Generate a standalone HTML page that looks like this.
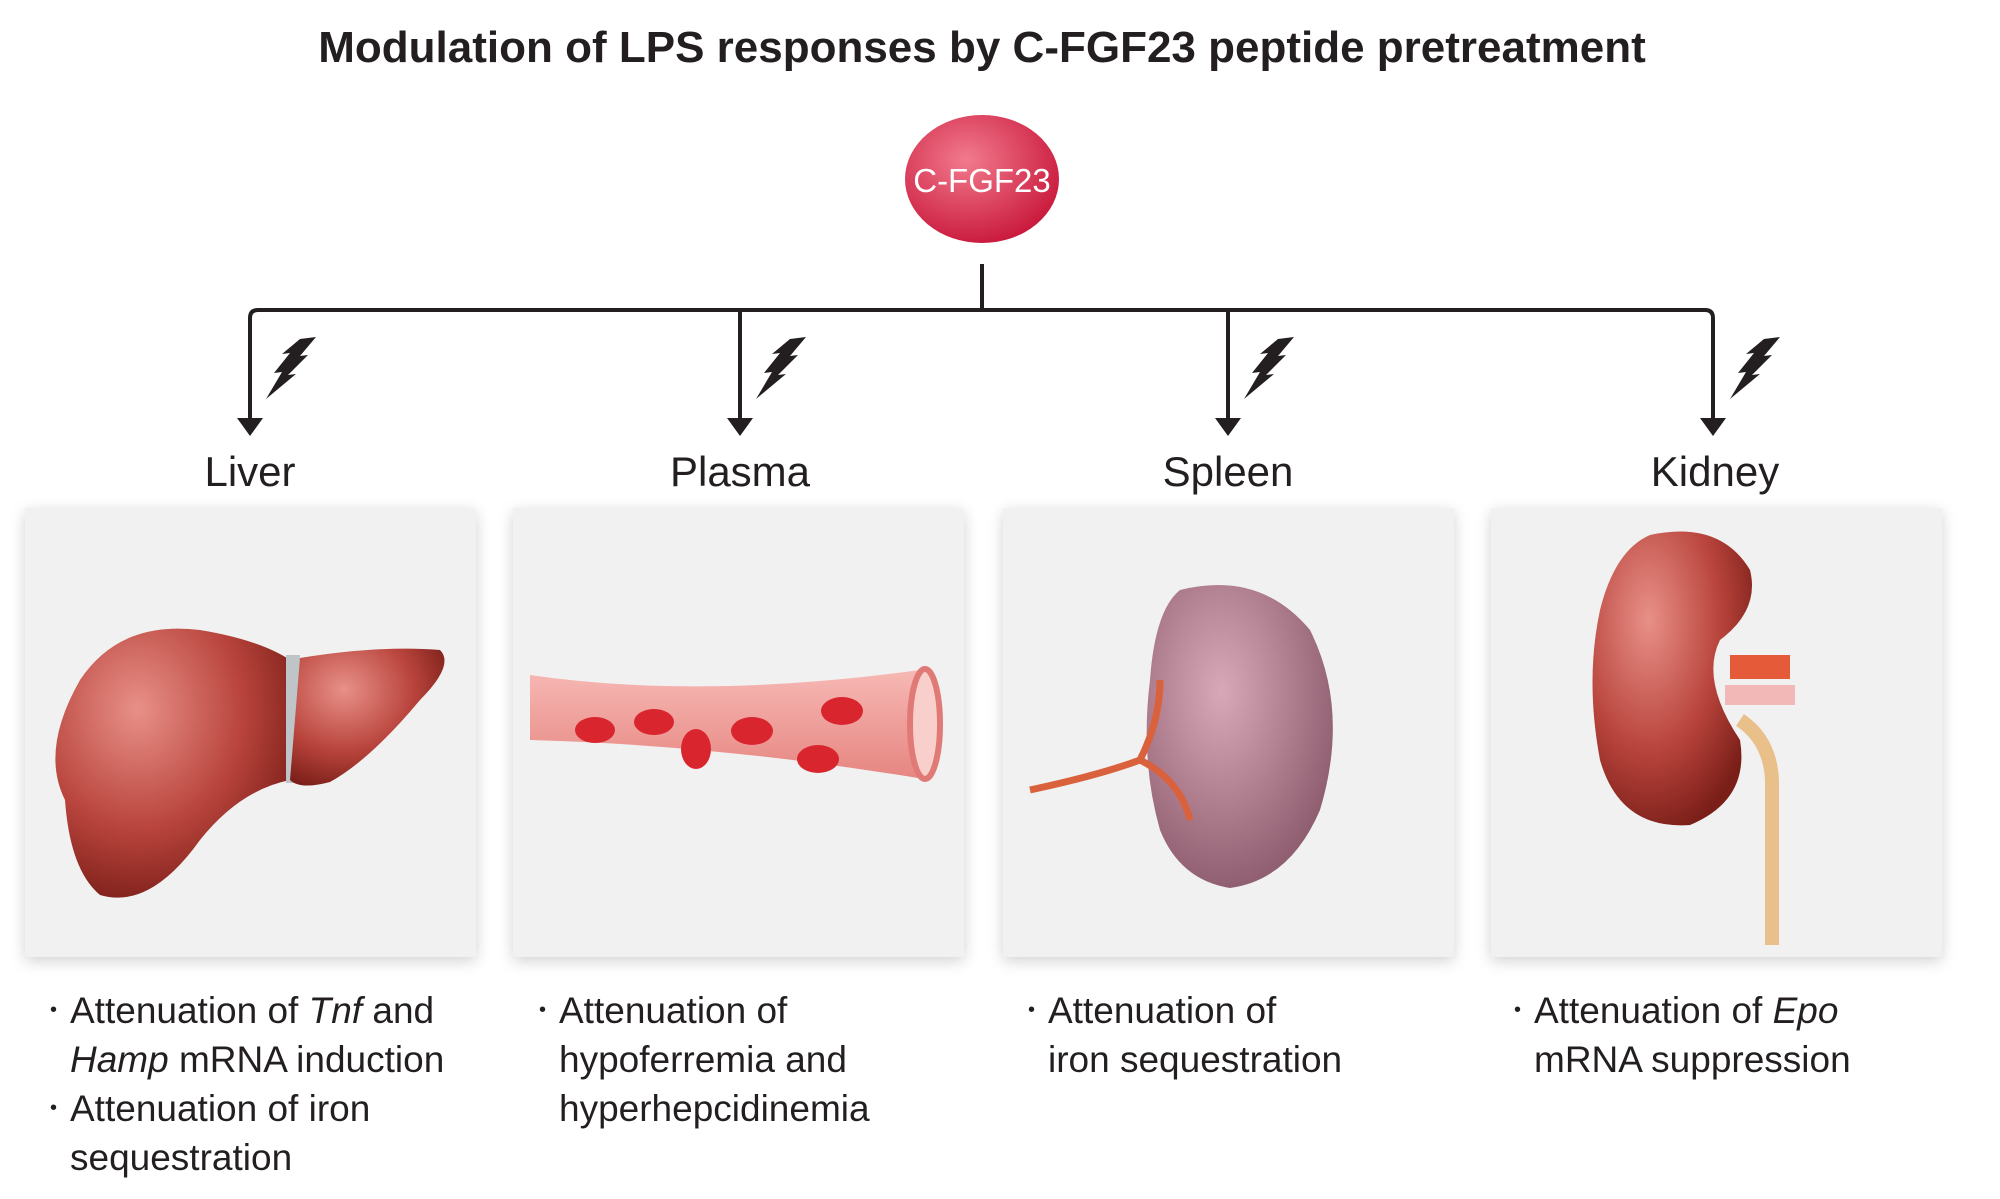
<!DOCTYPE html>
<html><head><meta charset="utf-8"><style>
html,body{margin:0;padding:0;background:#fff;}
body{width:2000px;height:1199px;position:relative;overflow:hidden;font-family:"Liberation Sans",sans-serif;color:#231f20;}
.t{position:absolute;white-space:nowrap;}
.title{left:0;width:1964px;text-align:center;top:23px;font-size:44px;font-weight:bold;}
.lab{font-size:42px;top:448px;width:400px;text-align:center;}
.panel{position:absolute;top:508px;width:451px;height:449px;background:#f1f1f1;box-shadow:0 4px 14px rgba(0,0,0,0.18);}
.txt{position:absolute;top:986px;font-size:37px;line-height:49px;}
.txt .b{position:absolute;left:-20px;font-size:20px;}
</style></head><body>
<div class="t title">Modulation of LPS responses by C-FGF23 peptide pretreatment</div>
<svg width="2000" height="1199" style="position:absolute;left:0;top:0">
<defs>
<radialGradient id="cg" cx="40%" cy="35%" r="70%"><stop offset="0" stop-color="#f27a8c"/><stop offset="1" stop-color="#c8163a"/></radialGradient>
<path id="bolt" d="M50 0 L34 19 L42 18 L22 38 L30 37 L0 62 L16 35 L8 36 L24 16 L16 17 L34 2 Z" fill="#231f20"/>
</defs>
<ellipse cx="982" cy="179" rx="77" ry="64" fill="url(#cg)"/>
<text x="982" y="192" font-size="33" fill="#fff" text-anchor="middle" font-family="Liberation Sans">C-FGF23</text>
<g stroke="#231f20" stroke-width="4" fill="none">
<path d="M982 264 V310 M250 420 V318 Q250 310 258 310 H1705 Q1713 310 1713 318 V420 M740 310 V420 M1228 310 V420"/>
</g>
<g fill="#231f20">
<polygon points="237,418 263,418 250,436"/><polygon points="727,418 753,418 740,436"/>
<polygon points="1215,418 1241,418 1228,436"/><polygon points="1700,418 1726,418 1713,436"/>
</g>
<use href="#bolt" x="266" y="337"/><use href="#bolt" x="756" y="337"/><use href="#bolt" x="1244" y="337"/><use href="#bolt" x="1730" y="337"/>
</svg>
<div class="t lab" style="left:50px">Liver</div>
<div class="t lab" style="left:540px">Plasma</div>
<div class="t lab" style="left:1028px">Spleen</div>
<div class="t lab" style="left:1515px">Kidney</div>
<div class="panel" style="left:25px"></div>
<div class="panel" style="left:513px"></div>
<div class="panel" style="left:1003px"></div>
<div class="panel" style="left:1491px"></div>
<svg width="2000" height="1199" style="position:absolute;left:0;top:0">
<defs>
<radialGradient id="lg" cx="35%" cy="30%" r="75%"><stop offset="0" stop-color="#e89088"/><stop offset="0.6" stop-color="#b8443c"/><stop offset="1" stop-color="#7a1e18"/></radialGradient>
<radialGradient id="sg" cx="40%" cy="35%" r="70%"><stop offset="0" stop-color="#d9a8b8"/><stop offset="1" stop-color="#8a5a6c"/></radialGradient>
<linearGradient id="vg" x1="0" y1="0" x2="0" y2="1"><stop offset="0" stop-color="#f7b8b4"/><stop offset="1" stop-color="#e68580"/></linearGradient>
</defs>
<path d="M80 680 Q120 620 200 630 Q260 640 290 660 L290 780 Q240 790 200 840 Q150 910 100 895 Q70 870 65 800 Q40 750 80 680 Z" fill="url(#lg)"/>
<rect x="286" y="655" width="14" height="128" fill="#bfc4c8"/>
<path d="M300 658 Q380 645 440 650 Q455 665 420 700 Q370 760 330 782 Q300 790 290 780 Z" fill="url(#lg)"/>
<path d="M530 675 Q700 700 920 670 L930 780 Q720 745 530 740 Z" fill="url(#vg)"/>
<ellipse cx="925" cy="724" rx="15" ry="55" fill="#f9cfcc" stroke="#e07a76" stroke-width="6"/>
<g fill="#d9262e"><ellipse cx="595" cy="730" rx="20" ry="13"/><ellipse cx="654" cy="722" rx="20" ry="13"/><ellipse cx="696" cy="749" rx="15" ry="20"/><ellipse cx="752" cy="731" rx="21" ry="14"/><ellipse cx="842" cy="711" rx="21" ry="14"/><ellipse cx="818" cy="759" rx="21" ry="14"/></g>
<path d="M1180 590 Q1260 570 1310 630 Q1350 710 1320 810 Q1290 880 1230 888 Q1180 880 1160 830 Q1140 760 1150 680 Q1155 610 1180 590 Z" fill="url(#sg)"/>
<path d="M1030 790 Q1100 775 1140 760 Q1160 720 1160 680 M1140 760 Q1180 780 1190 820" stroke="#d9623c" stroke-width="7" fill="none"/>
<path d="M1650 535 Q1720 520 1750 570 Q1760 610 1720 640 Q1700 680 1740 740 Q1750 800 1690 825 Q1620 830 1600 760 Q1585 680 1600 610 Q1615 550 1650 535 Z" fill="url(#lg)"/>
<rect x="1730" y="655" width="60" height="24" fill="#e55a38"/>
<rect x="1725" y="685" width="70" height="20" fill="#f2b8b8"/>
<path d="M1740 720 Q1770 740 1772 780 L1772 945" stroke="#e9c08a" stroke-width="14" fill="none"/>
</svg>
<div class="txt" style="left:70px"><span class="b">•</span>Attenuation of <i>Tnf</i> and<br><i>Hamp</i> mRNA induction<br><span class="b" style="top:98px">•</span>Attenuation of iron<br>sequestration</div>
<div class="txt" style="left:559px"><span class="b">•</span>Attenuation of<br>hypoferremia and<br>hyperhepcidinemia</div>
<div class="txt" style="left:1048px"><span class="b">•</span>Attenuation of<br>iron sequestration</div>
<div class="txt" style="left:1534px"><span class="b">•</span>Attenuation of <i>Epo</i><br>mRNA suppression</div>
</body></html>
